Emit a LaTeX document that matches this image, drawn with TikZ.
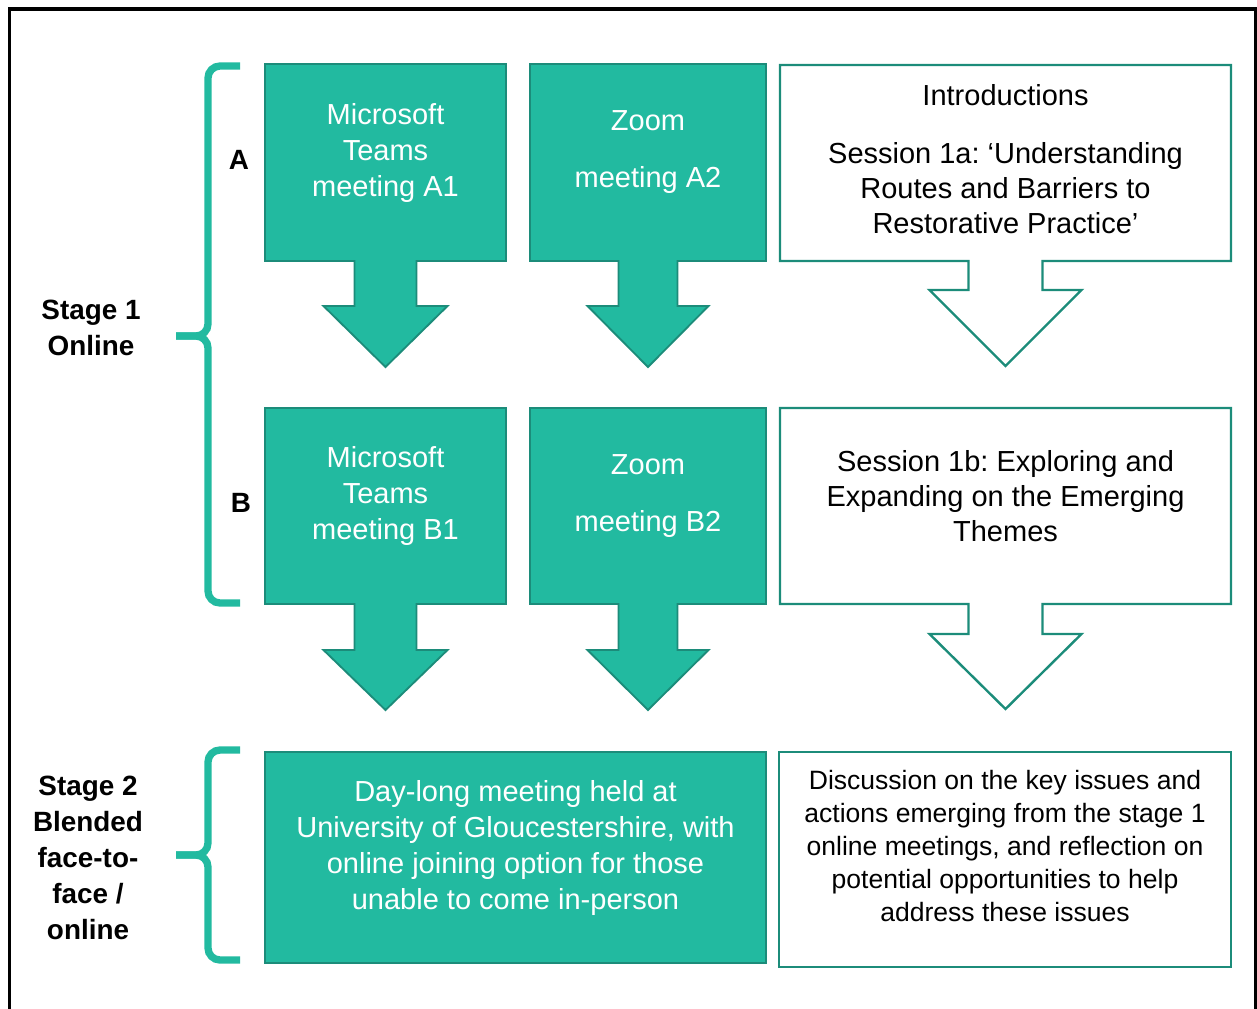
\documentclass[tikz,border=0pt]{standalone}
\usepackage{fontspec}
\setmainfont{Liberation Sans}
\usepackage{tikz}
\usetikzlibrary{positioning}
\definecolor{teal_fill}{RGB}{34,186,160}
\definecolor{teal_dark}{RGB}{28,140,122}
\frenchspacing

\begin{document}
\begin{tikzpicture}[
      x=0.75pt, y=-0.75pt,
      callout_green/.style={
         fill=teal_fill,
         draw=teal_dark,
         line width=1.4pt},
      callout_white/.style={
         fill=white,
         draw=teal_dark,
         line width=1.8pt},
      mybrace/.style={
         draw=teal_fill,
         line width=5.5pt,
         rounded corners=9pt},
      txt_white/.style={
         text=white,
         align=center,
         inner sep=0pt,
         font=\fontsize{21.75}{27.2}\selectfont},
      txt_black/.style={
         text=black,
         align=center,
         inner sep=0pt,
         font=\fontsize{21.75}{26.3}\selectfont},
      txt_small/.style={
         text=black,
         align=center,
         inner sep=0pt,
         font=\fontsize{19.9}{24.75}\selectfont},
      txt_stage/.style={
         text=black,
         align=center,
         inner sep=0pt,
         font=\bfseries\fontsize{20.9}{27}\selectfont},
      ]
      \useasboundingbox (0,0) rectangle (1257,1008);
      % outer frame (bottom edge lies off the page)
      \draw[line width=2.3pt] (9.5,1030) -- (9.5,9) -- (1256,9) -- (1256,1030);

      %%% callout boxes: name/centre x/top/bottom/half width/half stem/stem end/half head/tip/style
      \foreach \n/\cx/\yt/\yb/\bw/\sw/\sb/\hw/\tip/\sty in {%
        a1/385.5/64/261/120.5/31/306/62/367/callout_green,
        a2/648/64/261/118/29.5/306/60.5/367/callout_green,
        a3/1005.5/65/261/225.5/37/290/76/366/callout_white,
        b1/385.5/408/604/120.5/31/650/62/710/callout_green,
        b2/648/408/604/118/29.5/650/60.5/710/callout_green,
        b3/1005.5/408/604/225.5/37/634/76/709/callout_white}
        \draw[\sty] ({\cx-\bw},\yt) -- ({\cx+\bw},\yt) -- ({\cx+\bw},\yb)
          -- ({\cx+\sw},\yb) -- ({\cx+\sw},\sb) -- ({\cx+\hw},\sb) -- (\cx,\tip)
          -- ({\cx-\hw},\sb) -- ({\cx-\sw},\sb) -- ({\cx-\sw},\yb)
          -- ({\cx-\bw},\yb) -- cycle;

      % stage 2 boxes
      \draw[callout_green] (265,752) rectangle (766,963);
      \draw[callout_white] (779,752) rectangle (1231,967);

      % braces
      \draw[mybrace] (240,66) -- (208,66) -- (208,336) -- (176,336);
      \draw[mybrace] (176,336) -- (208,336) -- (208,603) -- (240,603);
      \draw[mybrace] (240,750) -- (208,750) -- (208,855) -- (176,855);
      \draw[mybrace] (176,855) -- (208,855) -- (208,960) -- (240,960);

      %%% texts
      \node[txt_white] (t_a1) at (385.5,153) {Microsoft\\Teams\\meeting A1};
      \node[txt_white] (t_a2) at (648,152) {Zoom\\[16pt]meeting A2};
      \node[txt_black] (t_a3) at (1005.5,159) {Introductions\\[17pt]Session 1a: ‘Understanding\\Routes and Barriers to\\Restorative Practice’};
      \node[txt_white] (t_b1) at (385.5,496) {Microsoft\\Teams\\meeting B1};
      \node[txt_white] (t_b2) at (648,496) {Zoom\\[16pt]meeting B2};
      \node[txt_black] (t_b3) at (1005.5,496) {Session 1b: Exploring and\\Expanding on the Emerging\\Themes};
      \node[txt_white] (t_day) at (515.5,848) {Day-long meeting held at\\University of Gloucestershire, with\\online joining option for those\\unable to come in-person};
      \node[txt_small] (t_disc) at (1005,846.5) {Discussion on the key issues and\\actions emerging from the stage 1\\online meetings, and reflection on\\potential opportunities to help\\address these issues};

      % stage labels
      \node[txt_stage] (stage1) at (91,328) {Stage 1\\Online};
      \node[txt_stage] (stage2) at (88,858) {Stage 2\\Blended\\face-to-\\face /\\online};
      \node[txt_stage] (lab_a) at (239,160) {A};
      \node[txt_stage] (lab_b) at (241,503) {B};
\end{tikzpicture}
\end{document}
